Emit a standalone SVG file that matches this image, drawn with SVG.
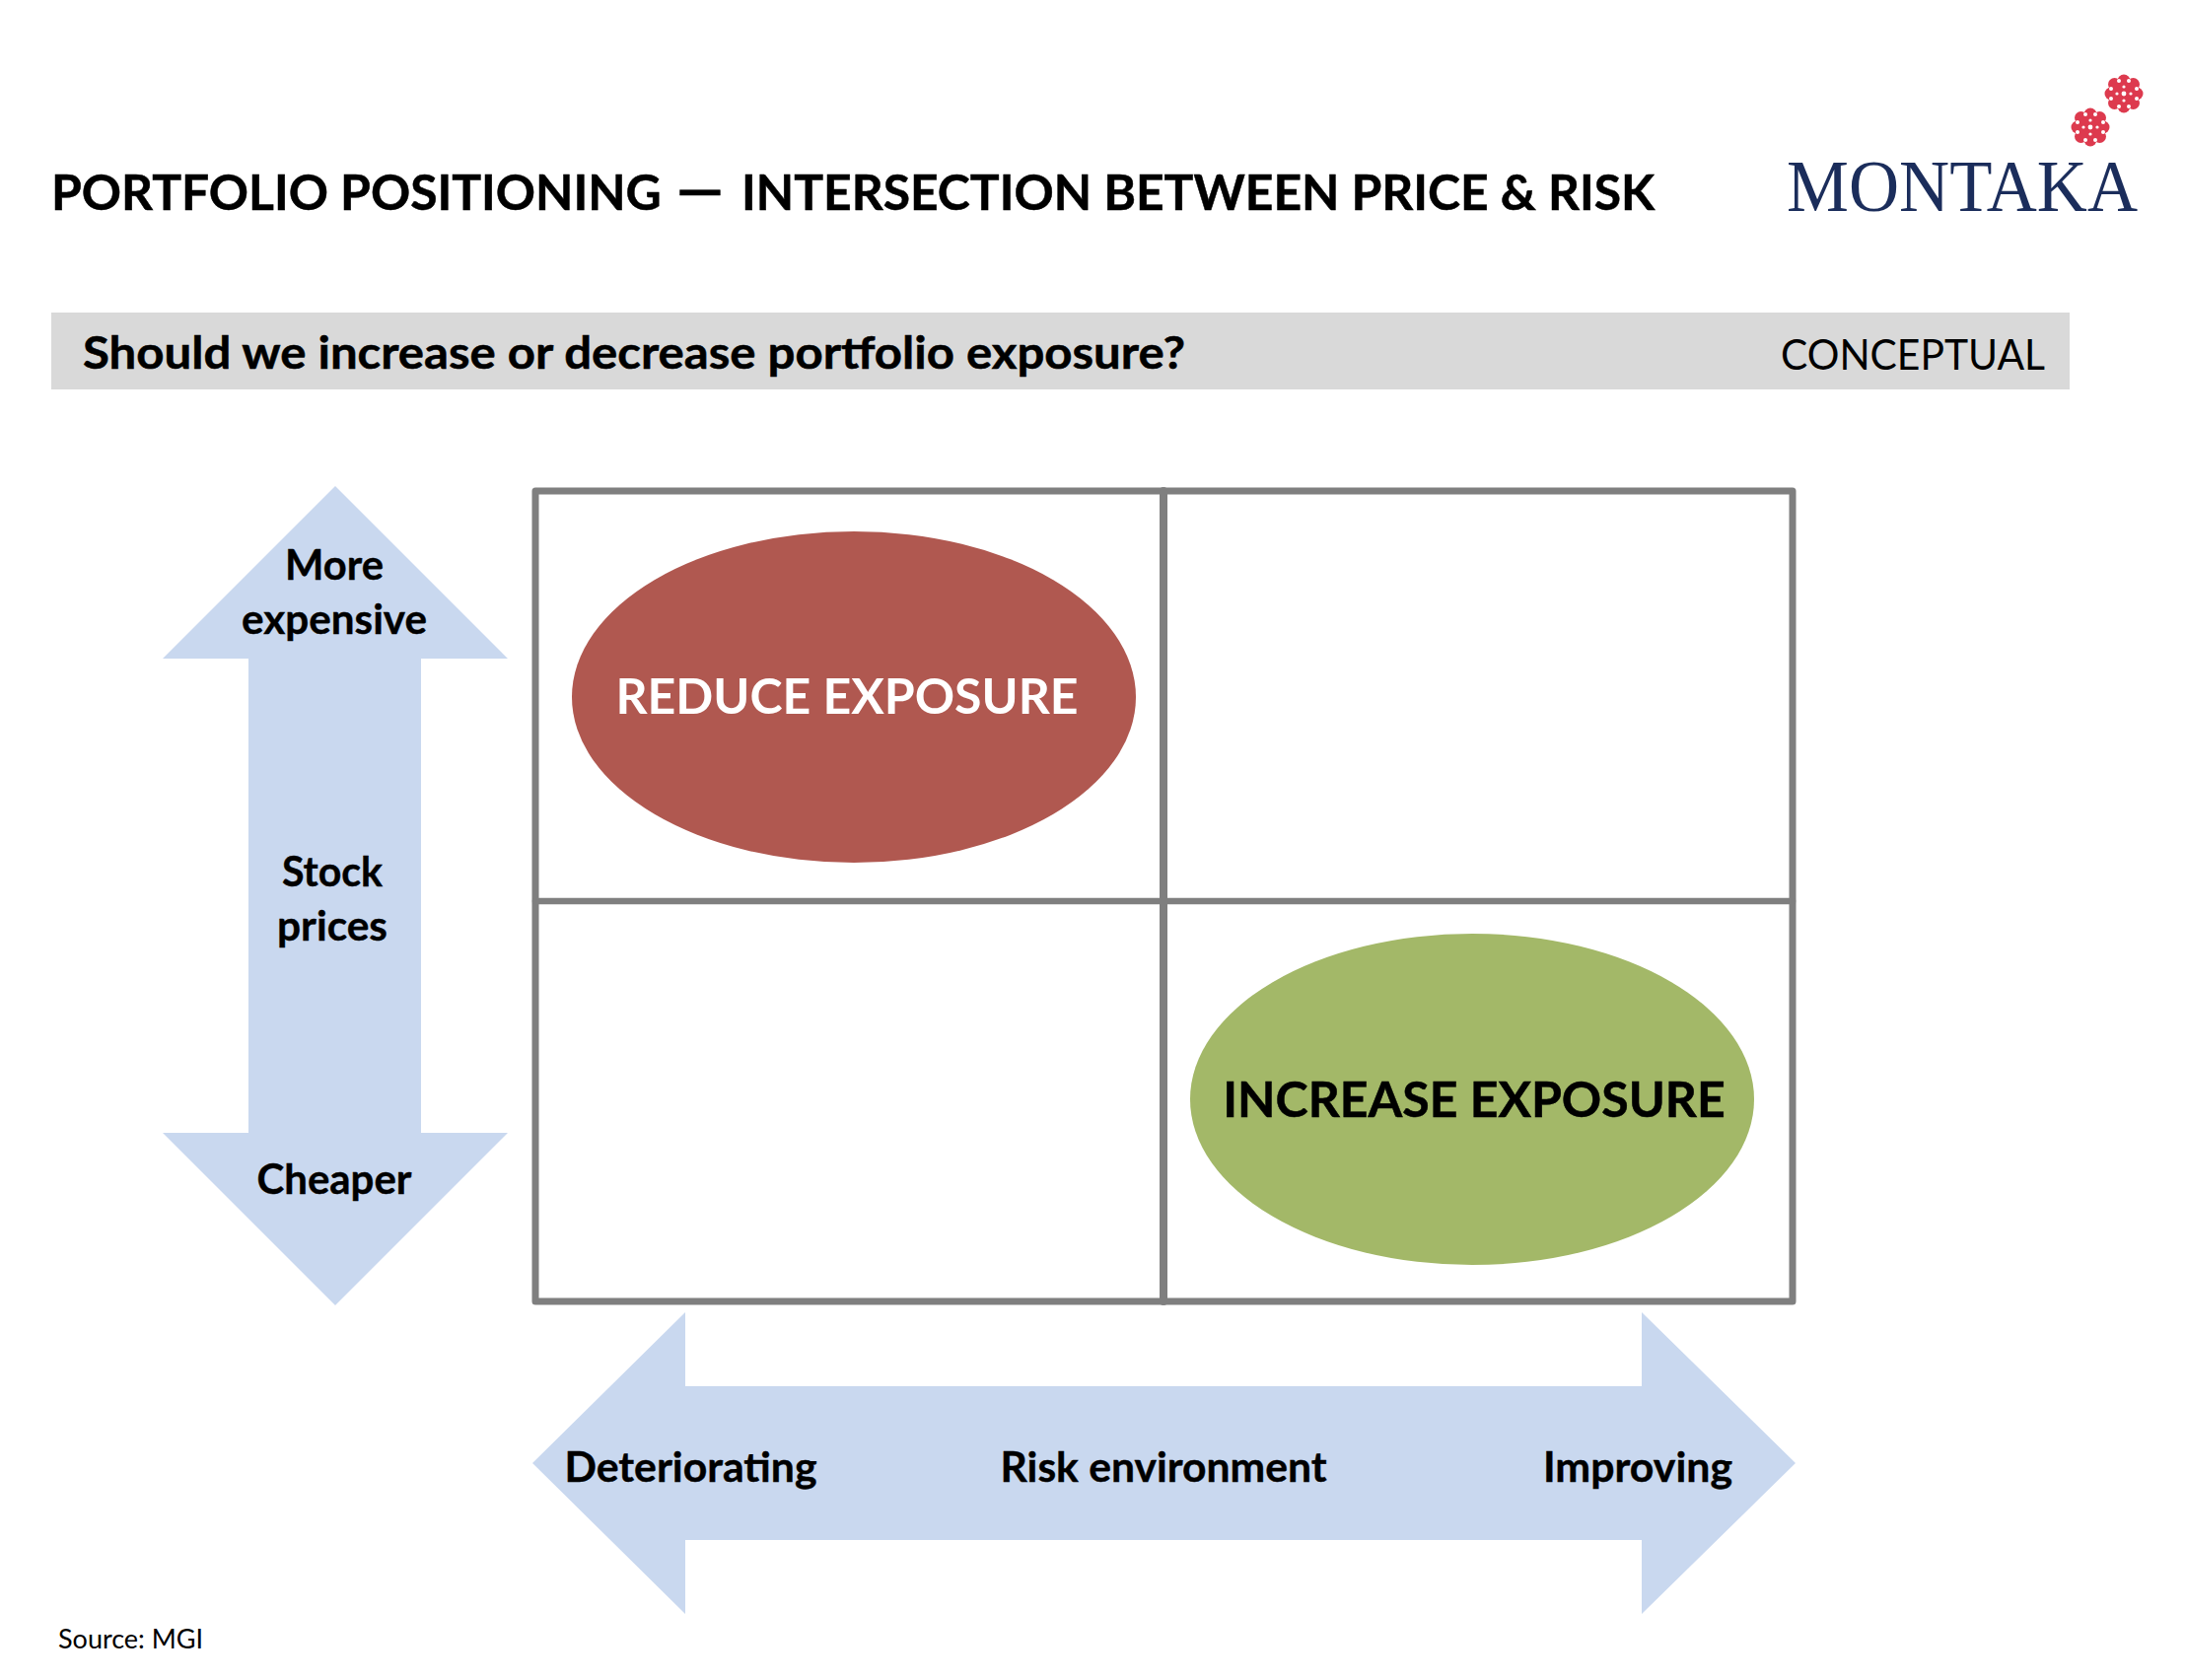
<svg xmlns="http://www.w3.org/2000/svg" width="2216" height="1704" viewBox="0 0 2216 1704">
<style>
text{font-family:Lato,"Liberation Sans",sans-serif;fill:#000}
.b{font-weight:700}
.c{text-anchor:middle}
.h{stroke:#000;stroke-width:.5px}
.l{font-size:41.5px;font-weight:700;text-anchor:middle;stroke:#000;stroke-width:.4px}
.arrow{fill:#c9d8ef}
.g{stroke:#7f7f7f;fill:none;stroke-linecap:round;stroke-linejoin:round}
.p{fill:#dd3a4e}
.w{fill:#fff}
</style>
<defs>
<g id="flower">
<circle r="13" class="p"/>
<g class="p"><circle cx="0" cy="-13" r="6.5"/><circle cx="9.5" cy="-9.5" r="6.5"/><circle cx="13" cy="0" r="6.5"/><circle cx="9.5" cy="9.5" r="6.5"/><circle cx="0" cy="13" r="6.5"/><circle cx="-9.5" cy="9.5" r="6.5"/><circle cx="-13" cy="0" r="6.5"/><circle cx="-9.5" cy="-9.5" r="6.5"/></g>
<g class="w"><circle r="2.4"/><circle cx="0" cy="-7" r="1.6"/><circle cx="7" cy="0" r="1.6"/><circle cx="0" cy="7" r="1.6"/><circle cx="-7" cy="0" r="1.6"/><circle cx="5" cy="-13" r="2"/><circle cx="13" cy="-5" r="2"/><circle cx="13" cy="5" r="2"/><circle cx="5" cy="13" r="2"/><circle cx="-5" cy="13" r="2"/><circle cx="-13" cy="5" r="2"/><circle cx="-13" cy="-5" r="2"/><circle cx="-5" cy="-13" r="2"/></g>
</g>
</defs>
<rect width="2216" height="1704" fill="#fff"/>
<g id="title"><text x="52" y="213" class="b h" font-size="49.8">PORTFOLIO POSITIONING <tspan x="686" font-size="60">—</tspan> <tspan x="752">INTERSECTION BETWEEN PRICE &amp; RISK</tspan></text></g>
<g id="logo">
<use href="#flower" x="2154" y="95"/>
<use href="#flower" x="2120" y="129"/>
<text x="1812" y="214" font-size="74" style="font-family:'Liberation Serif',serif;fill:#1b2d5b" textLength="356" lengthAdjust="spacingAndGlyphs">MONTAKA</text>
</g>
<g id="banner">
<rect x="52" y="317" width="2047" height="78" fill="#d9d9d9"/>
<text x="84" y="374" class="b h" font-size="45" textLength="1118" lengthAdjust="spacingAndGlyphs">Should we increase or decrease portfolio exposure?</text>
<text x="2074" y="375" font-size="42" text-anchor="end" textLength="268" lengthAdjust="spacingAndGlyphs">CONCEPTUAL</text>
</g>
<g id="price-arrow">
<polygon class="arrow" points="340,493 515,668 427,668 427,1149 515,1149 340,1324 165,1149 252,1149 252,668 165,668"/>
<text x="339" y="588" class="l" textLength="100" lengthAdjust="spacingAndGlyphs">More</text>
<text x="339" y="642.5" class="l" textLength="188" lengthAdjust="spacingAndGlyphs">expensive</text>
<text x="337" y="899" class="l" textLength="102" lengthAdjust="spacingAndGlyphs">Stock</text>
<text x="337" y="954" class="l" textLength="112" lengthAdjust="spacingAndGlyphs">prices</text>
<text x="339" y="1211" class="l" textLength="157" lengthAdjust="spacingAndGlyphs">Cheaper</text>
</g>
<g id="risk-arrow">
<polygon class="arrow" points="540,1484 695,1331 695,1406 1665,1406 1665,1331 1821,1484 1665,1637 1665,1562 695,1562 695,1637"/>
<text x="700.5" y="1503" class="l" textLength="256" lengthAdjust="spacingAndGlyphs">Deteriorating</text>
<text x="1180" y="1503" class="l" textLength="331" lengthAdjust="spacingAndGlyphs">Risk environment</text>
<text x="1661" y="1503" class="l" textLength="192" lengthAdjust="spacingAndGlyphs">Improving</text>
</g>
<g id="connectors">
<rect x="543" y="498" width="1275" height="822" class="g" stroke-width="7"/>
<line x1="1180" y1="498" x2="1180" y2="1320" class="g" stroke-width="8"/>
<line x1="543" y1="914" x2="1818" y2="914" class="g" stroke-width="6.5"/>
</g>
<g id="reduce">
<ellipse cx="866" cy="707" rx="286" ry="168" fill="#b05850"/>
<text x="859" y="724" class="c b" font-size="50" style="fill:#fff">REDUCE EXPOSURE</text>
</g>
<g id="increase">
<ellipse cx="1493" cy="1115" rx="286" ry="168" fill="#a3b868"/>
<text x="1495" y="1133" class="c b h" font-size="50">INCREASE EXPOSURE</text>
</g>
<g id="source"><text x="59" y="1672" font-size="27">Source: MGI</text></g>
</svg>
